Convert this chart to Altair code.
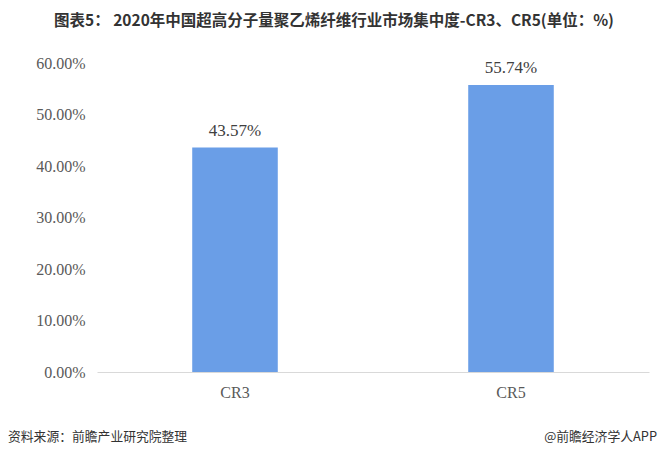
import altair as alt
import pandas as pd

categories = ["CR3", "CR5"]
values = [43.57, 55.74]
labels = ["43.57%", "55.74%"]
y_ticks = [0, 10, 20, 30, 40, 50, 60]

title_text = "图表5： 2020年中国超高分子量聚乙烯纤维行业市场集中度-CR3、CR5(单位：%)"
source_text = "资料来源：前瞻产业研究院整理"
brand_text = "@前瞻经济学人APP"

df = pd.DataFrame({"cat": categories, "val": values, "lab": labels})

W, H = 552, 309
PL, PT = 89, 55
PR = 668 - 16 - PL - W
PB = 457 - 16 - PT - H

base = alt.Chart(df)

bars = base.mark_bar(color="#6A9EE7").encode(
    x=alt.X("cat:N", sort=categories,
            scale=alt.Scale(paddingInner=0.69, paddingOuter=0.345),
            axis=alt.Axis(title=None, labelAngle=0, labelFont="Liberation Serif",
                          labelFontSize=16, labelColor="#595959", labelPadding=12,
                          ticks=False, domainColor="#D9D9D9", domainWidth=1)),
    y=alt.Y("val:Q", scale=alt.Scale(domain=[0, 60], nice=False),
            axis=alt.Axis(title=None, values=y_ticks, grid=False, domain=False, ticks=False,
                          labelExpr="format(datum.value, '.2f') + '%'",
                          labelFont="Liberation Serif", labelFontSize=16,
                          labelColor="#595959", labelPadding=12)),
)

text = base.mark_text(baseline="bottom", dy=-8, font="Liberation Serif",
                      fontSize=17, color="#404040").encode(
    x=alt.X("cat:N", sort=categories),
    y="val:Q",
    text="lab:N",
)

title = alt.Chart(pd.DataFrame({"t": [title_text]})).mark_text(
    font="Noto Sans CJK SC", fontSize=15.5, fontWeight="bold", color="#333333",
    align="center", baseline="middle").encode(
    x=alt.value(334 - 8 - PL), y=alt.value(21 - 8 - PT), text="t:N")

src = alt.Chart(pd.DataFrame({"t": [source_text]})).mark_text(
    font="Noto Sans CJK SC", fontSize=12.8, color="#333333",
    align="left", baseline="middle").encode(
    x=alt.value(8 - 8 - PL), y=alt.value(437 - 8 - PT), text="t:N")

brand = alt.Chart(pd.DataFrame({"t": [brand_text]})).mark_text(
    font="Noto Sans CJK SC", fontSize=12.8, color="#333333",
    align="right", baseline="middle").encode(
    x=alt.value(657 - 8 - PL), y=alt.value(437 - 8 - PT), text="t:N")

chart = alt.layer(bars, text, title, src, brand).properties(
    width=W, height=H,
    autosize=alt.AutoSizeParams(type="none"),
    padding={"left": PL, "top": PT, "right": PR, "bottom": PB},
).configure(background="white").configure_view(stroke=None)

chart.save("out.html", embed_options={"renderer": "svg", "actions": False})
